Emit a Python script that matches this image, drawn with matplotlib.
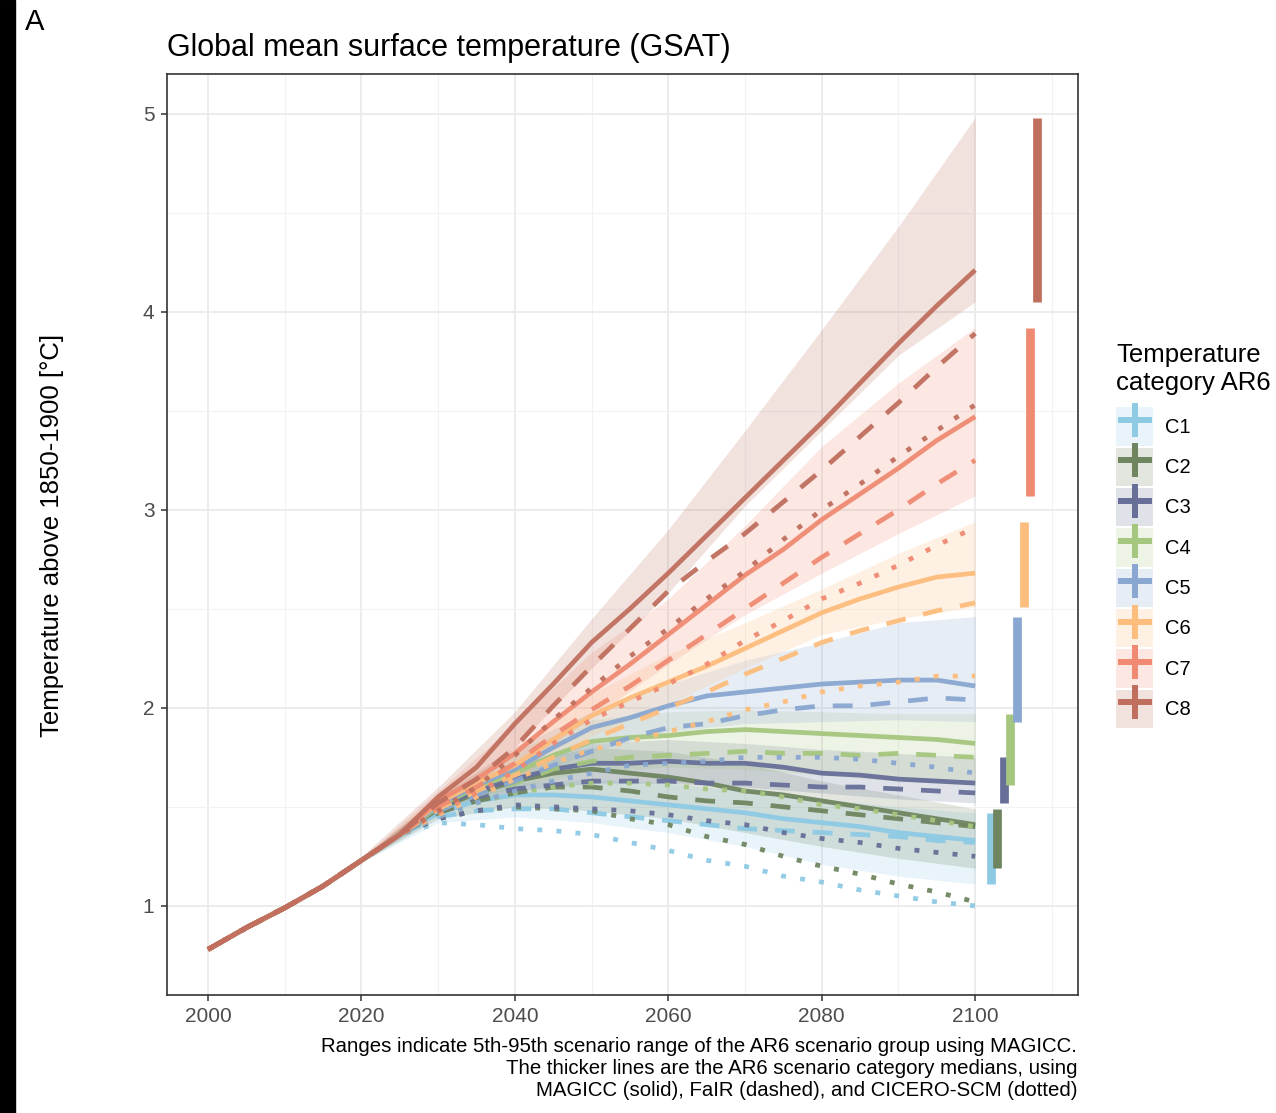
import matplotlib
matplotlib.use('Agg')
import matplotlib.pyplot as plt
from matplotlib.patches import Patch, Rectangle
from matplotlib.lines import Line2D
from matplotlib.legend_handler import HandlerTuple

plt.rcParams['font.family'] = ['Liberation Sans', 'DejaVu Sans']

# ---- data ----
cats = ['C1', 'C2', 'C3', 'C4', 'C5', 'C6', 'C7', 'C8']
colors = {'C1': '#8ecae4', 'C2': '#6f8560', 'C3': '#676f99', 'C4': '#a5c67f',
          'C5': '#89a7d1', 'C6': '#fdbd7c', 'C7': '#f08a72', 'C8': '#c06f5e'}

years_hist = [2000, 2005, 2010, 2015, 2020, 2025]
hist = [0.78, 0.89, 0.99, 1.10, 1.23, 1.36]
years_fut = [2030, 2035, 2040, 2045, 2050, 2055, 2060, 2065, 2070, 2075, 2080, 2085, 2090, 2095, 2100]

# MAGICC medians (solid)
magicc = {
    'C1': [1.47, 1.53, 1.56, 1.56, 1.55, 1.53, 1.51, 1.49, 1.47, 1.44, 1.42, 1.40, 1.37, 1.35, 1.33],
    'C2': [1.49, 1.57, 1.63, 1.67, 1.69, 1.67, 1.65, 1.62, 1.58, 1.56, 1.53, 1.50, 1.47, 1.44, 1.41],
    'C3': [1.50, 1.58, 1.64, 1.69, 1.72, 1.72, 1.73, 1.72, 1.72, 1.70, 1.67, 1.66, 1.64, 1.63, 1.62],
    'C4': [1.50, 1.60, 1.67, 1.76, 1.83, 1.85, 1.86, 1.88, 1.89, 1.88, 1.87, 1.86, 1.85, 1.84, 1.82],
    'C5': [1.51, 1.61, 1.69, 1.80, 1.90, 1.95, 2.01, 2.06, 2.08, 2.10, 2.12, 2.13, 2.14, 2.14, 2.11],
    'C6': [1.52, 1.62, 1.71, 1.84, 1.96, 2.05, 2.13, 2.21, 2.30, 2.39, 2.48, 2.55, 2.61, 2.66, 2.68],
    'C7': [1.53, 1.64, 1.77, 1.93, 2.08, 2.22, 2.37, 2.52, 2.67, 2.80, 2.95, 3.08, 3.21, 3.35, 3.47],
    'C8': [1.55, 1.70, 1.92, 2.12, 2.33, 2.50, 2.68, 2.87, 3.06, 3.25, 3.44, 3.64, 3.84, 4.03, 4.21],
}
# FaIR medians (dashed)
fair = {
    'C1': [1.45, 1.48, 1.49, 1.49, 1.47, 1.45, 1.43, 1.41, 1.39, 1.38, 1.37, 1.36, 1.35, 1.33, 1.32],
    'C2': [1.47, 1.53, 1.57, 1.60, 1.60, 1.58, 1.55, 1.53, 1.52, 1.50, 1.48, 1.46, 1.44, 1.42, 1.40],
    'C3': [1.48, 1.55, 1.59, 1.61, 1.63, 1.63, 1.63, 1.62, 1.62, 1.61, 1.60, 1.60, 1.59, 1.58, 1.57],
    'C4': [1.48, 1.56, 1.62, 1.69, 1.73, 1.75, 1.76, 1.77, 1.78, 1.77, 1.77, 1.76, 1.77, 1.76, 1.75],
    'C5': [1.48, 1.56, 1.63, 1.71, 1.78, 1.85, 1.90, 1.92, 1.96, 1.99, 2.01, 2.01, 2.03, 2.05, 2.04],
    'C6': [1.49, 1.58, 1.66, 1.75, 1.84, 1.92, 2.00, 2.08, 2.17, 2.25, 2.33, 2.39, 2.44, 2.49, 2.53],
    'C7': [1.50, 1.60, 1.72, 1.86, 1.99, 2.11, 2.24, 2.37, 2.50, 2.63, 2.76, 2.88, 3.00, 3.13, 3.25],
    'C8': [1.52, 1.64, 1.80, 2.01, 2.21, 2.40, 2.59, 2.74, 2.88, 3.04, 3.20, 3.37, 3.54, 3.72, 3.89],
}
# CICERO-SCM medians (dotted)
cicero = {
    'C1': [1.42, 1.41, 1.39, 1.38, 1.36, 1.32, 1.28, 1.23, 1.20, 1.15, 1.12, 1.08, 1.05, 1.02, 1.00],
    'C2': [1.44, 1.48, 1.50, 1.49, 1.48, 1.44, 1.41, 1.35, 1.31, 1.25, 1.20, 1.16, 1.11, 1.07, 1.02],
    'C3': [1.44, 1.48, 1.51, 1.50, 1.49, 1.48, 1.46, 1.43, 1.41, 1.37, 1.34, 1.32, 1.29, 1.27, 1.25],
    'C4': [1.45, 1.52, 1.57, 1.60, 1.62, 1.62, 1.61, 1.59, 1.58, 1.55, 1.51, 1.49, 1.46, 1.43, 1.40],
    'C5': [1.45, 1.52, 1.58, 1.63, 1.67, 1.71, 1.72, 1.73, 1.75, 1.75, 1.75, 1.74, 1.72, 1.70, 1.67],
    'C6': [1.46, 1.55, 1.64, 1.72, 1.79, 1.83, 1.88, 1.93, 1.99, 2.03, 2.08, 2.11, 2.13, 2.16, 2.16],
    'C7': [1.47, 1.57, 1.68, 1.82, 1.94, 2.03, 2.12, 2.22, 2.34, 2.44, 2.55, 2.63, 2.72, 2.82, 2.91],
    'C8': [1.48, 1.60, 1.76, 1.94, 2.10, 2.26, 2.40, 2.55, 2.69, 2.85, 3.00, 3.13, 3.27, 3.40, 3.53],
}

# 5th-95th MAGICC ranges
band_years = [2020, 2030, 2040, 2050, 2060, 2070, 2080, 2090, 2100]
band_lo = {
    'C1': [1.22, 1.42, 1.45, 1.42, 1.37, 1.30, 1.21, 1.15, 1.11],
    'C2': [1.22, 1.44, 1.50, 1.48, 1.44, 1.37, 1.30, 1.24, 1.19],
    'C3': [1.22, 1.46, 1.58, 1.62, 1.62, 1.60, 1.57, 1.54, 1.52],
    'C4': [1.22, 1.47, 1.60, 1.68, 1.70, 1.69, 1.66, 1.63, 1.61],
    'C5': [1.22, 1.48, 1.62, 1.78, 1.88, 1.92, 1.93, 1.94, 1.93],
    'C6': [1.22, 1.49, 1.64, 1.86, 2.02, 2.20, 2.37, 2.45, 2.51],
    'C7': [1.22, 1.50, 1.68, 1.95, 2.22, 2.47, 2.68, 2.88, 3.07],
    'C8': [1.22, 1.50, 1.80, 2.20, 2.58, 3.02, 3.40, 3.78, 4.05],
}
band_hi = {
    'C1': [1.24, 1.52, 1.62, 1.64, 1.62, 1.58, 1.54, 1.50, 1.47],
    'C2': [1.24, 1.55, 1.72, 1.80, 1.78, 1.72, 1.63, 1.56, 1.49],
    'C3': [1.24, 1.54, 1.72, 1.82, 1.84, 1.82, 1.79, 1.77, 1.75],
    'C4': [1.24, 1.55, 1.78, 1.94, 1.98, 1.99, 1.98, 1.97, 1.97],
    'C5': [1.24, 1.55, 1.80, 1.98, 2.12, 2.24, 2.33, 2.43, 2.46],
    'C6': [1.24, 1.56, 1.80, 2.07, 2.27, 2.43, 2.60, 2.78, 2.94],
    'C7': [1.24, 1.58, 1.92, 2.28, 2.55, 2.92, 3.32, 3.64, 3.92],
    'C8': [1.25, 1.60, 1.98, 2.45, 2.90, 3.40, 3.91, 4.43, 4.98],
}

# ---- figure ----
fig = plt.figure(figsize=(12.76, 11.13), dpi=100)
fig.patches.append(Rectangle((0, 0), 15 / 1276, 1, transform=fig.transFigure,
                             color='black', zorder=0))
ax = fig.add_axes([167 / 1276, 118 / 1113, 911 / 1276, 921 / 1113])

years_all = years_hist + years_fut
for c in cats:
    ax.fill_between(band_years, band_lo[c], band_hi[c], color=colors[c],
                    alpha=0.2, linewidth=0, zorder=1)

lw = 3.4
for c in cats:
    ax.plot(years_all, hist + magicc[c], color=colors[c], lw=lw, alpha=0.95,
            solid_capstyle='butt', zorder=3)
    ax.plot(years_all, hist + fair[c], color=colors[c], lw=lw, alpha=0.95,
            linestyle=(0, (4.2, 3.8)), dash_capstyle='butt', zorder=3)
    ax.plot(years_all, hist + cicero[c], color=colors[c], lw=lw, alpha=0.95,
            linestyle=(0, (1.05, 3.0)), dash_capstyle='butt', zorder=3)

# 2100 ranges as bars on the right
for i, c in enumerate(cats):
    ax.vlines(2102 + 0.86 * i, band_lo[c][-1], band_hi[c][-1], color=colors[c],
              lw=6.3, zorder=4)

ax.set_xlim(1994.65, 2113.4)
ax.set_ylim(0.55, 5.2)
ax.set_xticks([2000, 2020, 2040, 2060, 2080, 2100])
ax.set_xticks([2010, 2030, 2050, 2070, 2090, 2110], minor=True)
ax.set_yticks([1, 2, 3, 4, 5])
ax.set_yticks([1.5, 2.5, 3.5, 4.5], minor=True)
ax.grid(which='major', color='#ebebeb', lw=1.3, zorder=0)
ax.grid(which='minor', color='#f2f2f2', lw=0.8, zorder=0)
ax.set_axisbelow(True)
ax.tick_params(which='major', length=4, width=1.1, color='#333333',
               labelcolor='#4d4d4d', labelsize=15, pad=5)
ax.tick_params(which='minor', length=0)
for s in ax.spines.values():
    s.set_color('#333333')
    s.set_linewidth(1.2)

fig.text(25 / 1276, 1 - 8 / 1113, 'A', fontsize=21, va='top', ha='left')
fig.text(167 / 1276, 1 - 56 / 1113, 'Global mean surface temperature (GSAT)',
         fontsize=22, va='baseline', ha='left')
fig.text(52 / 1276, 1 - 535 / 1113, 'Temperature above 1850-1900 [°C]',
         fontsize=18.5, rotation=90, va='center', ha='center')
fig.text(1077 / 1276, 1 - 1037 / 1113,
         'Ranges indicate 5th-95th scenario range of the AR6 scenario group using MAGICC.\n'
         'The thicker lines are the AR6 scenario category medians, using\n'
         'MAGICC (solid), FaIR (dashed), and CICERO-SCM (dotted)',
         fontsize=14.7, va='top', ha='right', multialignment='right',
         linespacing=1.2)

handles = []
for c in cats:
    handles.append((Patch(facecolor=colors[c], alpha=0.2, linewidth=0),
                    Line2D([], [], color=colors[c], marker='+', markersize=24,
                           markeredgewidth=4.3, linestyle='none')))
leg = fig.legend(handles, cats, loc='upper left',
                 bbox_to_anchor=(1116 / 1276, 1 - 343 / 1113),
                 handler_map={tuple: HandlerTuple(ndivide=1)},
                 title='Temperature\ncategory AR6', title_fontsize=18.5,
                 fontsize=14.5, frameon=False, borderpad=0, borderaxespad=0,
                 handlelength=1.85, handleheight=2.55, labelspacing=0.1,
                 handletextpad=0.6, alignment='left')
leg._legend_box.sep = 9  # gap between legend title and keys

fig.savefig('out.png', dpi=100)
